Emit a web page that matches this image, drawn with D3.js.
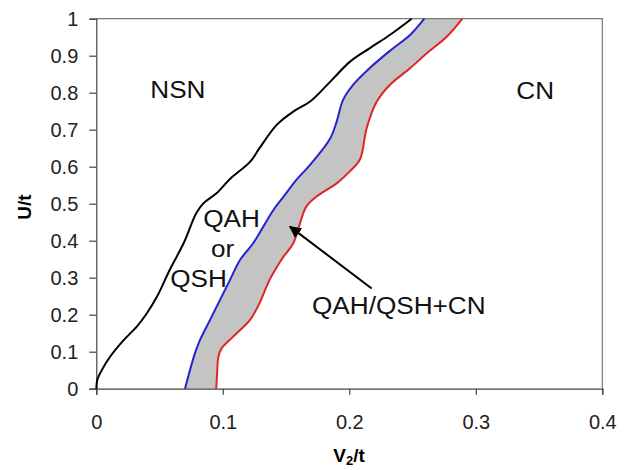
<!DOCTYPE html>
<html>
<head>
<meta charset="utf-8">
<style>
    body { margin: 0; background: #fff; }
    svg { font-family: Arial, 'Liberation Sans', sans-serif; }
    .tick text { font-size: 20px; fill: #222; }
</style>
</head>
<body>
<svg width="629" height="470"></svg>

<script src="https://d3js.org/d3.v7.min.js"></script>
<script>
    // phase boundaries, [V2/t, U/t]
    let nsnLine = [[0, 0], [0.0008, 0.024], [0.0043, 0.05], [0.011, 0.087], [0.0213, 0.13], [0.032, 0.168],
        [0.040, 0.204], [0.048, 0.249], [0.058, 0.321], [0.069, 0.393], [0.079, 0.474], [0.0846, 0.501],
        [0.095, 0.528], [0.1057, 0.567], [0.1215, 0.613], [0.129, 0.65], [0.1426, 0.713], [0.1557, 0.749],
        [0.169, 0.776], [0.185, 0.83], [0.2006, 0.884], [0.216, 0.92], [0.232, 0.956], [0.2493, 1]];

    let blueLine = [[0.0701, 0], [0.078, 0.096], [0.082, 0.132], [0.0899, 0.186], [0.0978, 0.24],
        [0.1057, 0.294], [0.1136, 0.348], [0.124, 0.393], [0.132, 0.438], [0.140, 0.483], [0.148, 0.519],
        [0.158, 0.564], [0.169, 0.605], [0.185, 0.677], [0.190, 0.722], [0.195, 0.78], [0.203, 0.821],
        [0.216, 0.866], [0.232, 0.913], [0.248, 0.956], [0.2593, 1]];

    let redLine = [[0.0948, 0], [0.0955, 0.04], [0.0965, 0.086], [0.099, 0.109], [0.108, 0.14], [0.1215, 0.186],
        [0.129, 0.231], [0.137, 0.294], [0.147, 0.352], [0.1557, 0.393], [0.161, 0.447], [0.166, 0.492],
        [0.174, 0.519], [0.190, 0.555], [0.2006, 0.588], [0.2085, 0.62], [0.2137, 0.704], [0.2217, 0.776],
        [0.232, 0.821], [0.248, 0.866], [0.261, 0.906], [0.277, 0.951], [0.2894, 1]];

    let xTicks = [0, 0.1, 0.2, 0.3, 0.4];
    let yTicks = [0, 0.1, 0.2, 0.3, 0.4, 0.5, 0.6, 0.7, 0.8, 0.9, 1];

    // region labels: [text, x, y(baseline), anchor]
    let labels = [
        ["NSN", 0.0645, 0.785, "middle"],
        ["CN", 0.347, 0.782, "middle"],
        ["QAH", 0.1069, 0.437, "middle"],
        ["or", 0.0998, 0.356, "middle"],
        ["QSH", 0.0808, 0.275, "middle"],
        ["QAH/QSH+CN", 0.1705, 0.203, "start"]
    ];
    let arrowFrom = [0.2177, 0.271];
    let arrowTo = [0.1531, 0.438];

    let margin = { left: 96.3, top: 18.7 };
    let width = 506;
    let height = 370;

    let svg = d3.select("svg");
    let g = svg.append("g").attr("transform", `translate(${margin.left},${margin.top})`);

    let x = d3.scaleLinear().domain([0, 0.4]).range([0, width]);
    let y = d3.scaleLinear().domain([0, 1]).range([height, 0]);

    let line = d3.line()
        .x(d => x(d[0]))
        .y(d => y(d[1]))
        .curve(d3.curveCatmullRom);

    // grey band between blue and red
    g.append("path")
        .attr("d", line(blueLine) + "L" + line(redLine.slice().reverse()).slice(1) + "Z")
        .style("fill", "#c4c4c4")
        .style("stroke", "none");

    // frame (top and right)
    g.append("path")
        .attr("d", `M0,0H${width}V${height}`)
        .style("fill", "none")
        .style("stroke", "#7a7a7a")
        .style("stroke-width", 1.2);

    let xAxis = g.append("g")
        .attr("transform", `translate(0,${height})`)
        .call(d3.axisBottom(x).tickValues(xTicks).tickSize(6).tickPadding(20).tickFormat(d3.format("")));
    let yAxis = g.append("g")
        .call(d3.axisLeft(y).tickValues(yTicks).tickSize(7).tickPadding(11).tickFormat(d3.format("")));

    [xAxis, yAxis].forEach(a => {
        a.select(".domain").style("stroke", "#444").style("stroke-width", 1.2);
        a.selectAll(".tick line").style("stroke", "#444").style("stroke-width", 1.2);
        a.selectAll(".tick text").attr("font-family", null).attr("font-size", null);
    });
    yAxis.selectAll(".tick text").attr("dy", "0.36em");

    g.append("path").attr("d", line(nsnLine))
        .style("fill", "none").style("stroke", "#000").style("stroke-width", 2);
    g.append("path").attr("d", line(blueLine))
        .style("fill", "none").style("stroke", "#2323d2").style("stroke-width", 2);
    g.append("path").attr("d", line(redLine))
        .style("fill", "none").style("stroke", "#e02424").style("stroke-width", 2);

    // arrow
    svg.append("defs").append("marker")
        .attr("id", "head")
        .attr("viewBox", "0 0 10 10")
        .attr("refX", 9).attr("refY", 5)
        .attr("markerWidth", 6).attr("markerHeight", 6)
        .attr("orient", "auto")
        .append("path")
        .attr("d", "M0,0L10,5L0,10Z")
        .style("fill", "#000");

    g.append("line")
        .attr("x1", x(arrowFrom[0])).attr("y1", y(arrowFrom[1]))
        .attr("x2", x(arrowTo[0])).attr("y2", y(arrowTo[1]))
        .style("stroke", "#000").style("stroke-width", 2)
        .attr("marker-end", "url(#head)");

    // labels are a little wider in the original, so stretch them sideways
    g.selectAll(".label")
        .data(labels)
        .join("text")
        .attr("class", "label")
        .attr("transform", d => `translate(${x(d[1])},${y(d[2])}) scale(1.09,1)`)
        .attr("text-anchor", d => d[3])
        .style("font-size", "24px")
        .style("fill", "#111")
        .text(d => d[0]);

    // axis titles
    svg.append("text")
        .attr("transform", "translate(31,207) rotate(-90)")
        .attr("text-anchor", "middle")
        .style("font-size", "19px")
        .style("font-weight", "bold")
        .text("U/t");

    let xt = svg.append("text")
        .attr("x", 349).attr("y", 462)
        .attr("text-anchor", "middle")
        .style("font-size", "19px")
        .style("font-weight", "bold");
    xt.append("tspan").text("V");
    xt.append("tspan").attr("dy", 3).style("font-size", "13px").text("2");
    xt.append("tspan").attr("dy", -3).text("/t");
</script>
</body>
</html>
